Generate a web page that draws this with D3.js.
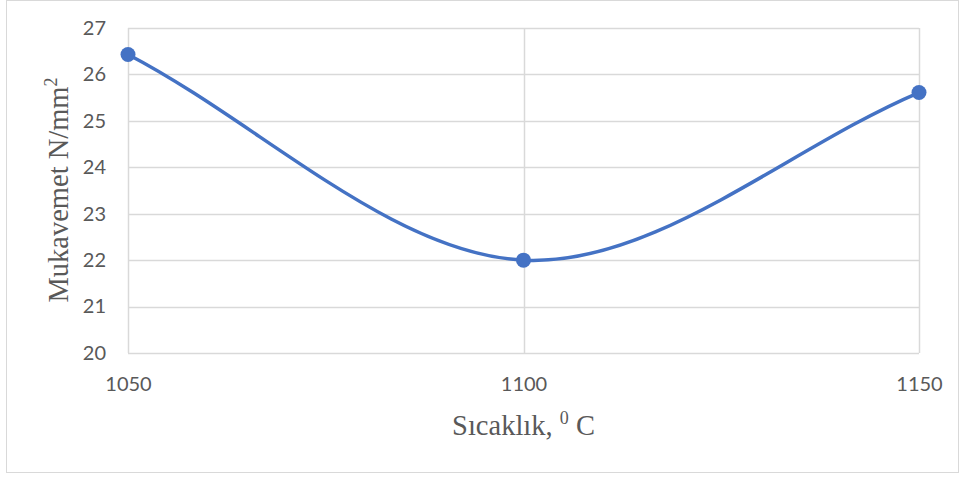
<!DOCTYPE html>
<html>
<head>
<meta charset="utf-8">
<script src="https://cdn.jsdelivr.net/npm/d3@7"></script>
<style>
  body { margin: 0; background: #fff; }
</style>
</head>
<body>
<div id="chart"></div>
<script>
'use strict';

// data
const temps = [1050, 1100, 1150]
const strength = [26.43, 22.0, 25.61]
const yTicks = [20, 21, 22, 23, 24, 25, 26, 27]

const width = 964
const height = 477
const margin = { top: 28, right: 45, bottom: 124, left: 128 }

// spreadsheet style smoothing: catmull-rom with extrapolated end points
function SmoothCurve(context){ this._context = context }
SmoothCurve.prototype = {
  areaStart(){ this._line = 0 },
  areaEnd(){ this._line = NaN },
  lineStart(){ this._pts = [] },
  point(x, y){ this._pts.push([+x, +y]) },
  lineEnd(){
    const p = this._pts, n = p.length, ctx = this._context
    if(!n) return
    ctx.moveTo(p[0][0], p[0][1])
    if(n === 1) return
    const get = i => {
      if(i < 0) return [2 * p[0][0] - p[1][0], 2 * p[0][1] - p[1][1]]
      if(i >= n) return [2 * p[n-1][0] - p[n-2][0], 2 * p[n-1][1] - p[n-2][1]]
      return p[i]
    }
    for(let i = 0; i < n - 1; i++){
      const p0 = get(i - 1), p1 = p[i], p2 = p[i + 1], p3 = get(i + 2)
      ctx.bezierCurveTo(
        p1[0] + (p2[0] - p0[0]) / 6, p1[1] + (p2[1] - p0[1]) / 6,
        p2[0] - (p3[0] - p1[0]) / 6, p2[1] - (p3[1] - p1[1]) / 6,
        p2[0], p2[1])
    }
  }
}

const svg = d3.select('#chart')
  .append('svg')
  .attr('width', width)
  .attr('height', height)

// chart frame
svg.append('rect')
  .attr('x', 6.5)
  .attr('y', 0.5)
  .attr('width', 952)
  .attr('height', 472)
  .attr('fill', 'white')
  .attr('stroke', '#d9d9d9')

const x = d3.scaleLinear()
  .domain([1050, 1150])
  .range([margin.left, width - margin.right])

const y = d3.scaleLinear()
  .domain([20, 27])
  .range([height - margin.bottom, margin.top])

// horizontal grid
svg.append('g')
  .attr('stroke', '#d9d9d9')
  .attr('stroke-width', 1.5)
  .selectAll('line')
  .data(yTicks)
  .join('line')
  .attr('x1', x(1050))
  .attr('x2', x(1150))
  .attr('y1', d => Math.round(y(d)) + 0.5)
  .attr('y2', d => Math.round(y(d)) + 0.5)

// vertical grid
svg.append('g')
  .attr('stroke', '#d9d9d9')
  .attr('stroke-width', 1.5)
  .selectAll('line')
  .data(temps)
  .join('line')
  .attr('x1', d => Math.round(x(d)) + 0.5)
  .attr('x2', d => Math.round(x(d)) + 0.5)
  .attr('y1', y(27))
  .attr('y2', y(20))

const tickFont = 'Lato, "Open Sans", sans-serif'

// y axis labels
const yAxis = d3.axisLeft(y).tickValues(yTicks).tickFormat(d3.format('d')).tickSize(0).tickPadding(22)
svg.append('g')
  .attr('transform', `translate(${x(1050)},0)`)
  .call(yAxis)
  .call(g => g.select('.domain').remove())
  .selectAll('text')
  .attr('fill', '#595959')
  .style('font-family', tickFont)
  .style('font-size', '20px')

// x axis labels
const xAxis = d3.axisBottom(x).tickValues(temps).tickFormat(d3.format('d')).tickSize(0).tickPadding(24)
svg.append('g')
  .attr('transform', `translate(0,${y(20)})`)
  .call(xAxis)
  .call(g => g.select('.domain').remove())
  .selectAll('text')
  .attr('fill', '#595959')
  .style('font-family', tickFont)
  .style('font-size', '20px')

// smoothed line
const line = d3.line()
  .x((d, i) => x(temps[i]))
  .y(d => y(d))
  .curve(ctx => new SmoothCurve(ctx))

svg.append('path')
  .datum(strength)
  .attr('fill', 'none')
  .attr('stroke', '#4472c4')
  .attr('stroke-width', 3.5)
  .attr('stroke-linecap', 'round')
  .attr('d', line)

svg.append('g')
  .selectAll('circle')
  .data(strength)
  .join('circle')
  .attr('cx', (d, i) => x(temps[i]))
  .attr('cy', d => y(d))
  .attr('r', 7.5)
  .attr('fill', '#4472c4')

// axis titles
const titleFont = '"Liberation Serif", "Times New Roman", serif'
const yTitle = svg.append('text')
  .attr('transform', `translate(68,190) rotate(-90)`)
  .attr('text-anchor', 'middle')
  .attr('fill', '#595959')
  .style('font-family', titleFont)
  .style('font-size', '28.5px')
yTitle.append('tspan').text('Mukavemet N/mm')
yTitle.append('tspan').attr('dy', -11).style('font-size', '18px').text('2')

const xTitle = svg.append('text')
  .attr('x', (x(1050) + x(1150)) / 2)
  .attr('y', 435)
  .attr('text-anchor', 'middle')
  .attr('fill', '#595959')
  .style('font-family', titleFont)
  .style('font-size', '28.5px')
xTitle.append('tspan').text('Sıcaklık, ')
xTitle.append('tspan').attr('dy', -11).style('font-size', '18px').text('0')
xTitle.append('tspan').attr('dy', 11).text(' C')
</script>
</body>
</html>
